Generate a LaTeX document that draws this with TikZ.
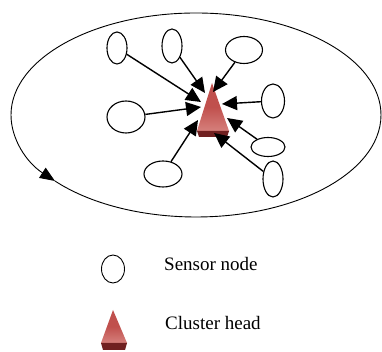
\documentclass[tikz,border=0pt]{standalone}
\usepackage{fontspec}
\setmainfont{Liberation Serif}
\usetikzlibrary{arrows.meta,shapes.geometric}
\definecolor{chred}{RGB}{192,80,77}
\definecolor{chlight}{RGB}{214,128,124}
\definecolor{chdark}{RGB}{112,32,32}
\begin{document}
\begin{tikzpicture}[x=1pt,y=1pt,
  sensor/.style={draw, ellipse, line width=1.1pt, inner sep=0pt},
  link/.style={line width=1.4pt, -{Triangle[length=15pt,width=14pt]}},
  ring/.style={line width=0.9pt},
  legendtext/.style={anchor=base west, inner sep=0pt, font=\fontsize{19}{22}\selectfont}]
\useasboundingbox (0,0) rectangle (382,352);
\fill[white] (0,0) rectangle (382,352);

% cluster boundary with its direction mark
\draw[ring,-{Triangle[length=15pt,width=12pt]}] (381,237)
  arc[start angle=0, end angle=220.3, x radius=185pt, y radius=102pt];
\draw[ring] (196,237) ++(220.3:185pt and 102pt)
  arc[start angle=220.3, end angle=360, x radius=185pt, y radius=102pt];

% sensor nodes
\node[sensor, minimum width=20pt, minimum height=32pt] (s1) at (117,304) {};
\node[sensor, minimum width=20pt, minimum height=34pt] (s2) at (172,306) {};
\node[sensor, minimum width=37pt, minimum height=27pt] (s3) at (244,302) {};
\node[sensor, minimum width=23pt, minimum height=34pt] (s4) at (273,251) {};
\node[sensor, minimum width=38pt, minimum height=32pt] (s5) at (126,235) {};
\node[sensor, minimum width=34pt, minimum height=19pt] (s6) at (268,205) {};
\node[sensor, minimum width=38pt, minimum height=26pt] (s7) at (163,178) {};
\node[sensor, minimum width=20pt, minimum height=36pt] (s8) at (273,173) {};

% cluster head
\shade[top color=chred, bottom color=chlight, middle color=chred]
  (212,269) -- (229,221) -- (197,221) -- cycle;
\fill[chdark] (197,221) -- (229,221) -- (227,215) -- (199,215) -- cycle;

% where the links reach the cluster head
\coordinate (t1) at (201,250);
\coordinate (t2) at (205,259);
\coordinate (t3) at (213,260);
\coordinate (t4) at (222,248);
\coordinate (t5) at (201,245);
\coordinate (t6) at (227,234);
\coordinate (t7) at (198,232);
\coordinate (t8) at (214,219);

\draw[link] (s1) -- (t1);
\draw[link] (s2) -- (t2);
\draw[link] (s3) -- (t3);
\draw[link] (s4) -- (t4);
\draw[link] (s5) -- (t5);
\draw[link] (s6) -- (t6);
\draw[link] (s7) -- (t7);
\draw[link] (s8) -- (t8);

% legend
\node[sensor, line width=0.9pt, minimum width=23pt, minimum height=28pt] (legsensor) at (113,83) {};
\node[legendtext] (legsensortext) at (164,81) {Sensor node};

\shade[top color=chred, bottom color=chlight, middle color=chred]
  (113,42) -- (127,9) -- (101,9) -- cycle;
\fill[chdark] (101,9) -- (127,9) -- (125,2) -- (103,2) -- cycle;
\coordinate (leghead) at (113,25);
\node[legendtext] (legheadtext) at (165,22) {Cluster head};
\end{tikzpicture}
\end{document}
